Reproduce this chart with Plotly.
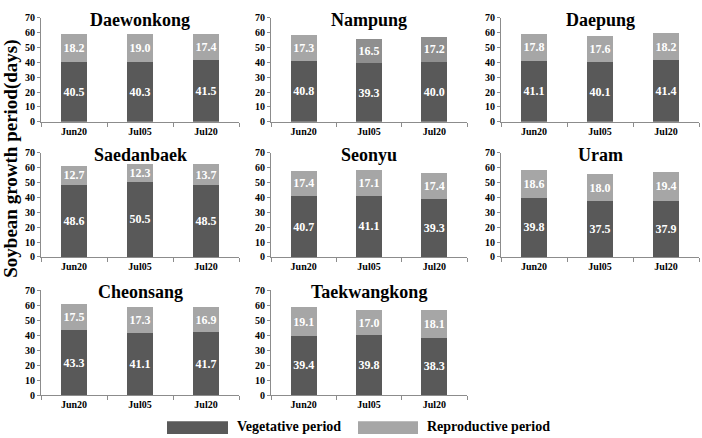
import plotly.graph_objects as go

W, H = 702, 438

varieties = ["Daewonkong", "Nampung", "Daepung", "Saedanbaek", "Seonyu", "Uram", "Cheonsang", "Taekwangkong"]
dates = ["Jun20", "Jul05", "Jul20"]
vegetative = {
    "Daewonkong": [40.5, 40.3, 41.5],
    "Nampung": [40.8, 39.3, 40.0],
    "Daepung": [41.1, 40.1, 41.4],
    "Saedanbaek": [48.6, 50.5, 48.5],
    "Seonyu": [40.7, 41.1, 39.3],
    "Uram": [39.8, 37.5, 37.9],
    "Cheonsang": [43.3, 41.1, 41.7],
    "Taekwangkong": [39.4, 39.8, 38.3],
}
reproductive = {
    "Daewonkong": [18.2, 19.0, 17.4],
    "Nampung": [17.3, 16.5, 17.2],
    "Daepung": [17.8, 17.6, 18.2],
    "Saedanbaek": [12.7, 12.3, 13.7],
    "Seonyu": [17.4, 17.1, 17.4],
    "Uram": [18.6, 18.0, 19.4],
    "Cheonsang": [17.5, 17.3, 16.9],
    "Taekwangkong": [19.1, 17.0, 18.1],
}
y_ticks = [0, 10, 20, 30, 40, 50, 60, 70]

DARK = "#595959"
LIGHT = "#a6a6a6"
FONT = "Liberation Serif, Times New Roman, serif"

col_px = [(41, 239), (271, 467), (501, 699)]
row_px = [(12, 119), (151, 258), (292, 400)]

fig = go.Figure()
annotations = []
for i, v in enumerate(varieties):
    r, c = divmod(i, 3)
    n = i + 1
    xa = "x" if n == 1 else f"x{n}"
    ya = "y" if n == 1 else f"y{n}"
    light_colors = [LIGHT] * 3
    if v == "Nampung":
        light_colors = [LIGHT, "#8f8f8f", "#8f8f8f"]
    fig.add_trace(go.Bar(
        x=dates, y=vegetative[v], marker=dict(color=DARK, line=dict(width=0)),
        text=[f"{t:.1f}" for t in vegetative[v]], textposition="inside",
        insidetextanchor="middle", textangle=0, constraintext="none",
        textfont=dict(color="white", size=12, family=FONT, weight="bold"),
        xaxis=xa, yaxis=ya, showlegend=False, name="Vegetative period"))
    fig.add_trace(go.Bar(
        x=dates, y=reproductive[v], marker=dict(color=light_colors, line=dict(width=0)),
        text=[f"{t:.1f}" for t in reproductive[v]], textposition="inside",
        insidetextanchor="middle", textangle=0, constraintext="none",
        textfont=dict(color="white", size=12, family=FONT, weight="bold"),
        xaxis=xa, yaxis=ya, showlegend=False, name="Reproductive period"))
    x0, x1 = col_px[c]
    y0, y1 = row_px[r]
    xd = [x0 / W, x1 / W]
    yd = [1 - y1 / H, 1 - y0 / H]
    kx = "xaxis" if n == 1 else f"xaxis{n}"
    ky = "yaxis" if n == 1 else f"yaxis{n}"
    fig.layout[kx] = dict(domain=xd, anchor=ya, showline=True, linecolor="#8c8c8c", linewidth=1,
                          ticks="outside", tickson="boundaries", ticklen=4, tickcolor="#8c8c8c",
                          tickfont=dict(family=FONT, size=10, color="black", weight="bold"),
                          showgrid=False, zeroline=False, fixedrange=True)
    fig.layout[ky] = dict(domain=yd, anchor=xa, range=[0, 70], tickvals=y_ticks,
                          showline=True, linecolor="#8c8c8c", linewidth=1,
                          ticks="outside", ticklen=3, tickcolor="#8c8c8c",
                          tickfont=dict(family=FONT, size=10, color="black", weight="bold"),
                          showgrid=False, zeroline=False, fixedrange=True)
    annotations.append(dict(text=f"<b>{v}</b>", x=(x0 + x1) / 2 / W, y=1 - (y0 + 2) / H,
                            xref="paper", yref="paper", xanchor="center", yanchor="middle",
                            showarrow=False, font=dict(family=FONT, size=18, color="black")))

# y-axis title
annotations.append(dict(text="<b>Soybean growth period(days)</b>", x=11 / W, y=1 - 157 / H,
                        xref="paper", yref="paper", xanchor="center", yanchor="middle",
                        textangle=-90, showarrow=False,
                        font=dict(family=FONT, size=19, color="black")))

# legend
shapes = [
    dict(type="rect", xref="paper", yref="paper", x0=167 / W, x1=228 / W, y0=1 - 440 / H, y1=1 - 427 / H,
         fillcolor=DARK, line=dict(width=0)),
    dict(type="rect", xref="paper", yref="paper", x0=358 / W, x1=418 / W, y0=1 - 440 / H, y1=1 - 427 / H,
         fillcolor=LIGHT, line=dict(width=0)),
]
annotations.append(dict(text="<b>Vegetative period</b>", x=235 / W, y=1 - 432 / H, xref="paper", yref="paper",
                        xanchor="left", yanchor="middle", showarrow=False,
                        font=dict(family=FONT, size=14, color="black")))
annotations.append(dict(text="<b>Reproductive period</b>", x=425 / W, y=1 - 432 / H, xref="paper", yref="paper",
                        xanchor="left", yanchor="middle", showarrow=False,
                        font=dict(family=FONT, size=14, color="black")))

fig.update_layout(
    width=W, height=H, margin=dict(l=0, r=0, t=0, b=0),
    barmode="stack", bargap=0.6,
    paper_bgcolor="white", plot_bgcolor="white",
    annotations=annotations, shapes=shapes, showlegend=False,
    font=dict(family=FONT),
)

fig.write_html("out.html")
